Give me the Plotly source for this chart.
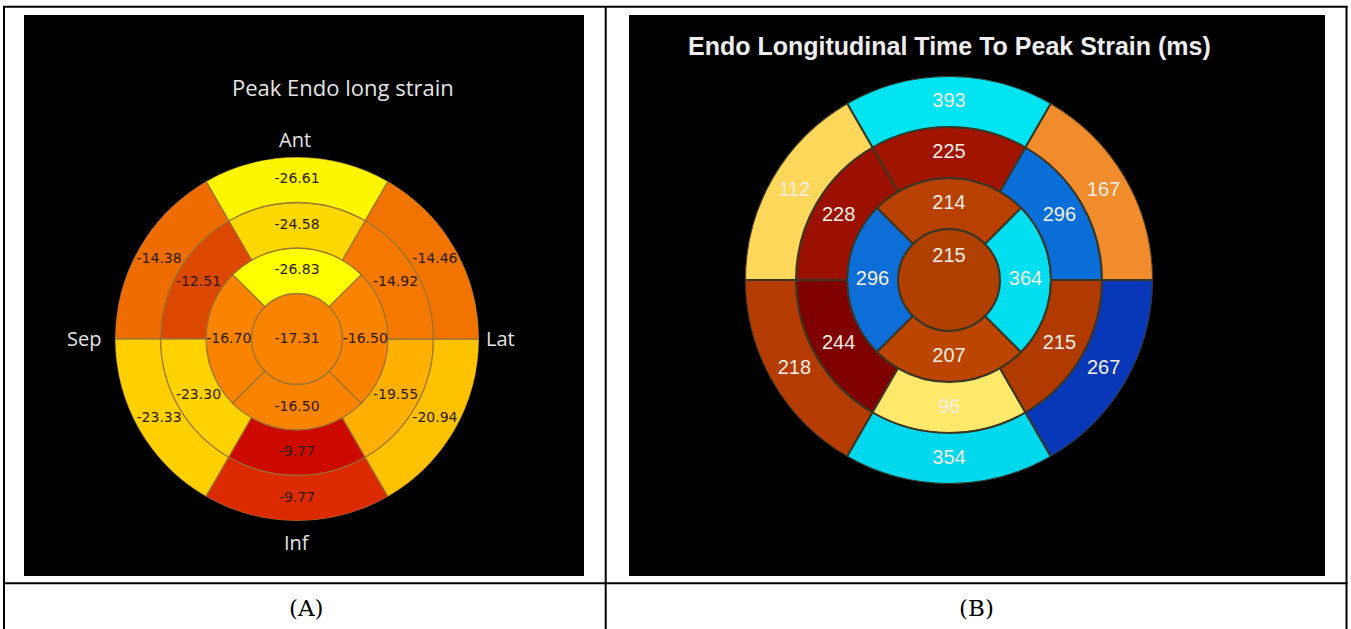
import plotly.graph_objects as go

W, H = 1351, 629

# ---- Panel A: peak endocardial longitudinal strain (%) ----
# basal / mid order: Ant, AntSep, InfSep, Inf, InfLat, AntLat
a_basal = [-26.61, -14.38, -23.33, -9.77, -20.94, -14.46]
a_mid = [-24.58, -12.51, -23.30, -9.77, -19.55, -14.92]
# apical order: Ant, Sep, Inf, Lat
a_apical = [-26.83, -16.70, -16.50, -16.50]
a_apex = [-17.31]

# ---- Panel B: endocardial longitudinal time to peak strain (ms) ----
b_basal = [393, 112, 218, 354, 267, 167]
b_mid = [225, 228, 244, 96, 215, 296]
b_apical = [214, 296, 207, 364]
b_apex = [215]

wall_labels = ["Ant", "Sep", "Inf", "Lat"]

six_theta = [90, 150, 210, 270, 330, 30]
four_theta = [90, 180, 270, 0]

# segment fill colours
a_colors = {
    "basal": ["#FCF600", "#EF6C00", "#FFD000", "#DC2A00", "#FFC200", "#F27400"],
    "mid": ["#FFD800", "#DC4800", "#FFD200", "#CC0A00", "#FFB000", "#F57800"],
    "apical": ["#FFFF00", "#FA8400", "#FA8400", "#FA8400"],
    "apex": ["#FA8400"],
}
b_colors = {
    "basal": ["#00E4F2", "#FFD75A", "#B43C00", "#00D8EE", "#0838B8", "#F08C2C"],
    "mid": ["#A01400", "#9C1000", "#800000", "#FFE86A", "#B03A00", "#0A6ED8"],
    "apical": ["#B84000", "#0E6ED8", "#BC4600", "#00DEF0"],
    "apex": ["#B04000"],
}


def bullseye(fig, polar, rings, colors, line, fmt, font, apex_r=0.0):
    """Add the 17-segment bullseye rings (apex, apical, mid, basal) to a polar subplot."""
    layout = [
        ("apex", rings[0], [90], 360, 0),
        ("apical", rings[1], four_theta, 90, 1),
        ("mid", rings[2], six_theta, 60, 2),
        ("basal", rings[3], six_theta, 60, 3),
    ]
    for name, vals, thetas, width, base in layout:
        fig.add_trace(go.Barpolar(
            r=[1] * len(vals), base=[base] * len(vals), theta=thetas[:len(vals)],
            width=[width] * len(vals),
            marker=dict(color=colors[name], line=line),
            subplot=polar, hoverinfo="skip", showlegend=False,
        ))
    for name, vals, thetas, width, base in layout:
        rr = [apex_r] * len(vals) if name == "apex" else [base + 0.5] * len(vals)
        fig.add_trace(go.Scatterpolar(
            r=rr, theta=thetas[:len(vals)], mode="text",
            text=[fmt(v) for v in vals], textfont=font,
            subplot=polar, hoverinfo="skip", showlegend=False, cliponaxis=False,
        ))


fig = go.Figure()
bullseye(fig, "polar", [a_apex, a_apical, a_mid, a_basal], a_colors,
         dict(color="rgba(150,115,55,0.85)", width=1.3),
         lambda v: f"{v:.2f}",
         dict(family="DejaVu Sans", size=14, color="#2B1A05"))
bullseye(fig, "polar2", [b_apex, b_apical, b_mid, b_basal], b_colors,
         dict(color="#3A3626", width=2),
         lambda v: f"{v:d}",
         dict(family="Liberation Sans", size=20, color="#F4EEE6"),
         apex_r=0.45)


def px_domain(cx, cy, r):
    return dict(x=[(cx - r) / W, (cx + r) / W], y=[1 - (cy + r) / H, 1 - (cy - r) / H])


A_CX, A_CY, A_R = 297, 339, 182
B_CX, B_CY, B_R = 949, 280, 204

polar_common = dict(
    bgcolor="rgba(0,0,0,0)", hole=0, bargap=0, barmode="overlay",
    radialaxis=dict(range=[0, 4], visible=False),
    angularaxis=dict(visible=False, direction="counterclockwise", rotation=0),
)

shapes = [
    # image panels
    dict(type="rect", xref="paper", yref="paper", x0=24 / W, x1=584 / W,
         y0=1 - 576 / H, y1=1 - 15 / H, fillcolor="black", line_width=0, layer="below"),
    dict(type="rect", xref="paper", yref="paper", x0=629 / W, x1=1325 / W,
         y0=1 - 576 / H, y1=1 - 15 / H, fillcolor="black", line_width=0, layer="below"),
]
# table rules
for x in (4, 605.7, 1346.5):
    shapes.append(dict(type="line", xref="paper", yref="paper", x0=x / W, x1=x / W,
                       y0=0, y1=1 - 6 / H, line=dict(color="black", width=2)))
for y in (6.8, 583.3):
    shapes.append(dict(type="line", xref="paper", yref="paper", x0=3 / W, x1=1347.5 / W,
                       y0=1 - y / H, y1=1 - y / H, line=dict(color="black", width=2)))


def ann(text, x, y, size, color, family, **kw):
    return dict(text=text, x=x / W, y=1 - y / H, xref="paper", yref="paper",
                showarrow=False, xanchor="center", yanchor="middle",
                font=dict(size=size, color=color, family=family), **kw)


annotations = [
    ann("Peak Endo long strain", 343, 87, 22, "#E4E4E4", "Open Sans"),
    ann(wall_labels[0], 295, 139, 20, "#E4E4E4", "Open Sans"),
    ann(wall_labels[1], 84, 338, 20, "#E4E4E4", "Open Sans"),
    ann(wall_labels[2], 297, 542, 20, "#E4E4E4", "Open Sans"),
    ann(wall_labels[3], 500, 338, 20, "#E4E4E4", "Open Sans"),
    ann("<b>Endo Longitudinal Time To Peak Strain (ms)</b>", 949, 46, 25, "#EDEDED",
        "Liberation Sans"),
    ann("(A)", 306, 608, 23, "black", "DejaVu Serif"),
    ann("(B)", 976, 608, 23, "black", "DejaVu Serif"),
]

fig.update_layout(
    width=W, height=H, margin=dict(l=0, r=0, t=0, b=0),
    paper_bgcolor="white", plot_bgcolor="white",
    polar=dict(domain=px_domain(A_CX, A_CY, A_R), **polar_common),
    polar2=dict(domain=px_domain(B_CX, B_CY, B_R), **polar_common),
    shapes=shapes, annotations=annotations, showlegend=False,
)

fig.write_html("out.html")
